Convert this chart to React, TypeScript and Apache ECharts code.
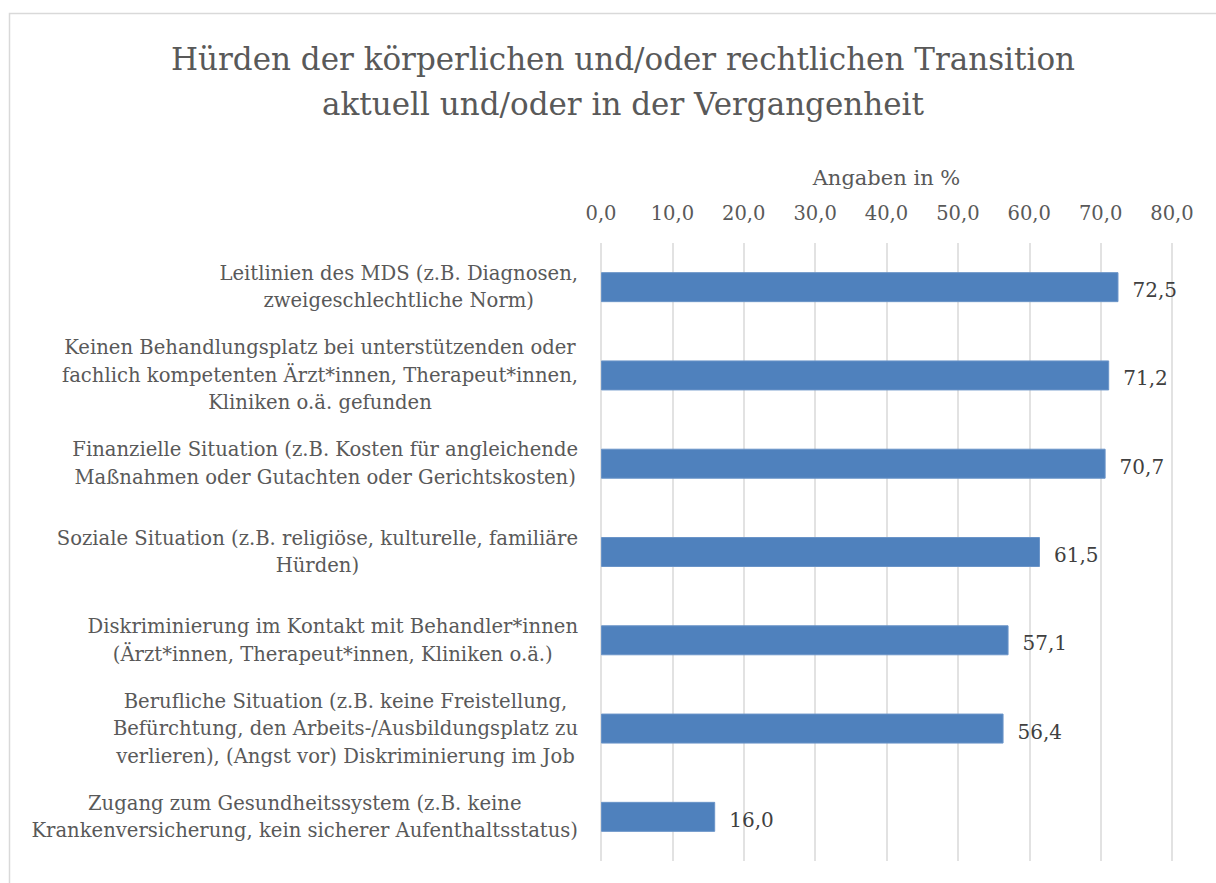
import React, { useEffect, useRef } from "react";
import * as echarts from "echarts";

const titleLines = [
  "Hürden der körperlichen und/oder rechtlichen Transition",
  "aktuell und/oder in der Vergangenheit",
];
const axisName = "Angaben in %";
const categories = [
  "Leitlinien des MDS (z.B. Diagnosen,\nzweigeschlechtliche Norm)",
  "Keinen Behandlungsplatz bei unterstützenden oder\nfachlich kompetenten Ärzt*innen, Therapeut*innen,\nKliniken o.ä. gefunden",
  "Finanzielle Situation (z.B. Kosten für angleichende\nMaßnahmen oder Gutachten oder Gerichtskosten)",
  "Soziale Situation (z.B. religiöse, kulturelle, familiäre\nHürden)",
  "Diskriminierung im Kontakt mit Behandler*innen\n(Ärzt*innen, Therapeut*innen, Kliniken o.ä.)",
  "Berufliche Situation (z.B. keine Freistellung,\nBefürchtung, den Arbeits-/Ausbildungsplatz zu\nverlieren), (Angst vor) Diskriminierung im Job",
  "Zugang zum Gesundheitssystem (z.B. keine\nKrankenversicherung, kein sicherer Aufenthaltsstatus)",
];
const values = [72.5, 71.2, 70.7, 61.5, 57.1, 56.4, 16.0];
const axisMin = 0;
const axisMax = 80;
const axisStep = 10;

const FONT = "DejaVu Serif";
const fmt = (v: number) => v.toFixed(1).replace(".", ",");

export default function App() {
  const ref = useRef<HTMLDivElement>(null);
  useEffect(() => {
    document.body.style.margin = "0";
    if (!ref.current) return;
    const chart = echarts.init(ref.current, undefined, { renderer: "svg" });
    chart.setOption({
      animation: false,
      backgroundColor: "#ffffff",
      textStyle: { fontFamily: FONT },
      graphic: [
        {
          type: "rect",
          shape: { x: 9.5, y: 13.5, width: 1400, height: 1000 },
          style: { fill: "none", stroke: "#d9d9d9", lineWidth: 1.5 },
          silent: true,
        },
      ],
      title: {
        text: titleLines.join("\n"),
        left: 618,
        top: 31,
        textAlign: "center",
        textStyle: {
          fontFamily: FONT,
          fontSize: 31,
          fontWeight: "normal",
          color: "#595959",
          lineHeight: 45,
        },
      },
      grid: { left: 601, right: 44, top: 243, bottom: 22, containLabel: false },
      xAxis: {
        type: "value",
        position: "top",
        min: axisMin,
        max: axisMax,
        interval: axisStep,
        name: axisName,
        nameLocation: "middle",
        nameGap: 55,
        nameTextStyle: { fontFamily: FONT, fontSize: 21, color: "#595959" },
        axisLine: { show: false },
        axisTick: { show: false },
        axisLabel: {
          fontFamily: FONT,
          fontSize: 19.5,
          color: "#595959",
          margin: 20,
          formatter: (v: number) => fmt(v),
        },
        splitLine: { show: true, lineStyle: { color: "#d9d9d9", width: 1.5 } },
      },
      yAxis: {
        type: "category",
        inverse: true,
        data: categories,
        axisLine: { show: false },
        axisTick: { show: false },
        axisLabel: {
          margin: 23,
          formatter: (v: string) =>
            v
              .split("\n")
              .map((l) => `{a|${l}}`)
              .join("\n"),
          rich: {
            a: {
              align: "center",
              fontFamily: FONT,
              fontSize: 19.6,
              lineHeight: 27.5,
              color: "#595959",
            },
          },
        },
      },
      series: [
        {
          type: "bar",
          data: values,
          barWidth: 30,
          itemStyle: { color: "#4f81bd", borderColor: "#6a94c8", borderWidth: 1 },
          label: {
            show: true,
            position: "right",
            distance: 14,
            fontFamily: FONT,
            fontSize: 20,
            color: "#404040",
            offset: [0, 3],
            formatter: (p: any) => fmt(p.value),
          },
        },
      ],
    });
    return () => chart.dispose();
  }, []);
  return <div ref={ref} style={{ width: 1216, height: 883 }} />;
}
